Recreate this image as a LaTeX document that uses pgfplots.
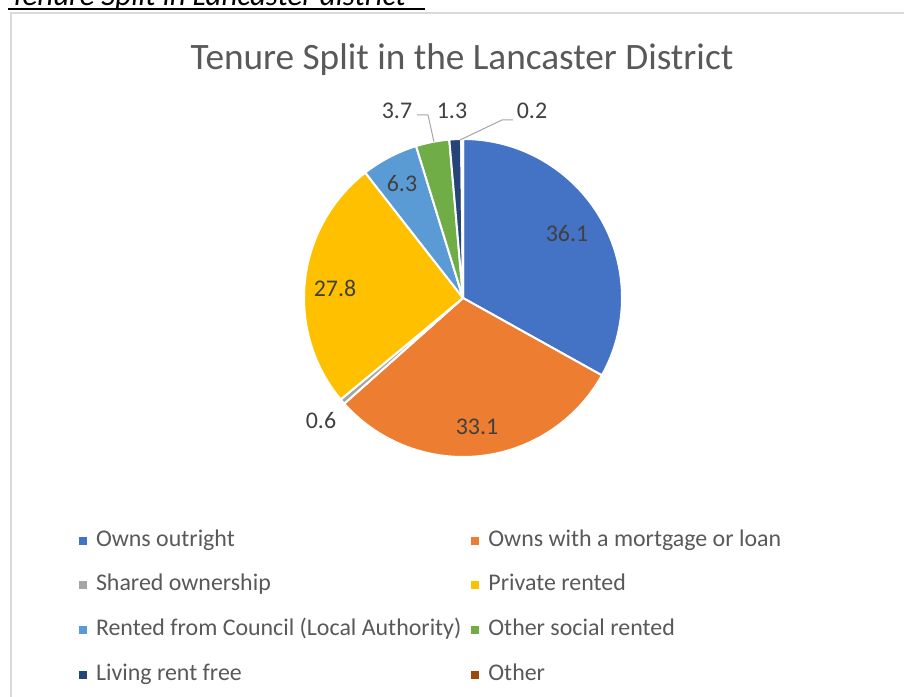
\documentclass[border=0pt]{standalone}
\usepackage{pgfplots}
\pgfplotsset{compat=1.18}
\usepackage{fontspec}
\setmainfont{Carlito}
\definecolor{cOwn}{HTML}{4472C4}
\definecolor{cMort}{HTML}{ED7D31}
\definecolor{cShared}{HTML}{A5A5A5}
\definecolor{cPriv}{HTML}{FFC000}
\definecolor{cCouncil}{HTML}{5B9BD5}
\definecolor{cSocial}{HTML}{70AD47}
\definecolor{cFree}{HTML}{264478}
\definecolor{cOther}{HTML}{9E480E}
\definecolor{cTitle}{HTML}{595959}
\definecolor{cLab}{HTML}{404040}
\definecolor{cFrame}{HTML}{D9D9D9}
\definecolor{cLine}{HTML}{A6A6A6}
\begin{document}
\begin{tikzpicture}
\useasboundingbox (0,0) rectangle (904bp,697bp);
\fill[white] (0,0) rectangle (904bp,697bp);
% document heading (cut off at the top, as in the reference)
\node[anchor=base west, inner sep=0pt, font=\itshape\fontsize{31}{36}\selectfont] at (10bp,691bp) {Tenure Split in Lancaster district};
\draw[line width=2.5bp] (8bp,688bp) -- (425bp,688bp);
% chart frame
\draw[cFrame, line width=1.5bp] (11bp,-5bp) -- (11bp,684bp) -- (910bp,684bp);
\begin{axis}[
  at={(0bp,0bp)}, anchor=south west,
  scale only axis, width=904bp, height=697bp,
  xmin=0, xmax=904, ymin=0, ymax=697,
  axis lines=none, clip=false,
  legend columns=2,
  legend cell align=left,
  legend image code/.code={\path[#1, draw=none] (0bp,-4bp) rectangle (8bp,4bp);},
  legend style={
    at={(0.0874,0.2396)}, anchor=north west,
    draw=none, fill=none, inner sep=0pt, outer sep=0pt,
    font=\fontsize{24}{28}\selectfont, text=cTitle,
    row sep=23.7bp,
    nodes={inner sep=0pt, text height=16bp, text depth=5bp},
    /tikz/every odd column/.append style={column sep=9bp},
    /tikz/every even column/.append style={column sep=10bp},
  },
]
\addlegendimage{fill=cOwn}\addlegendentry{Owns outright}
\addlegendimage{fill=cMort}\addlegendentry{Owns with a mortgage or loan}
\addlegendimage{fill=cShared}\addlegendentry{Shared ownership}
\addlegendimage{fill=cPriv}\addlegendentry{Private rented}
\addlegendimage{fill=cCouncil}\addlegendentry{Rented from Council (Local Authority)}
\addlegendimage{fill=cSocial}\addlegendentry{Other social rented}
\addlegendimage{fill=cFree}\addlegendentry{Living rent free}
\addlegendimage{fill=cOther}\addlegendentry{Other}

\pgfplotsextra{
  \gdef\angA{90}
  \foreach \v/\c in {36.1/cOwn,33.1/cMort,0.6/cShared,27.8/cPriv,6.3/cCouncil,3.7/cSocial,1.3/cFree,0.2/cOther}{
    \pgfmathsetmacro\angB{\angA-\v/109.1*360}
    \filldraw[fill=\c, draw=white, line width=2bp, line join=round]
      (axis cs:463,399) -- ++(\angA:159bp) arc[start angle=\angA, end angle=\angB, radius=159bp] -- cycle;
    \global\let\angA\angB
  }
  % leader lines
  \draw[cLine, line width=1bp] (axis cs:417,582) -- (axis cs:428,582) -- (axis cs:434,555);
  \draw[cLine, line width=1bp] (axis cs:513,577) -- (axis cs:502,577) -- (axis cs:460,557);
}
% title
\node[anchor=base, inner sep=0pt, font=\fontsize{37.4}{44}\selectfont, text=cTitle] at (axis cs:462,627) {Tenure Split in the Lancaster District};
% data labels
\begin{scope}[every node/.style={inner sep=0pt, font=\fontsize{24}{28}\selectfont, text=cLab}]
\node at (axis cs:567,463) {36.1};
\node at (axis cs:477,270) {33.1};
\node at (axis cs:321,276) {0.6};
\node at (axis cs:335,409) {27.8};
\node at (axis cs:402,513) {6.3};
\node at (axis cs:397,586) {3.7};
\node at (axis cs:452,586) {1.3};
\node at (axis cs:532,586) {0.2};
\end{scope}
\end{axis}
\end{tikzpicture}
\end{document}
